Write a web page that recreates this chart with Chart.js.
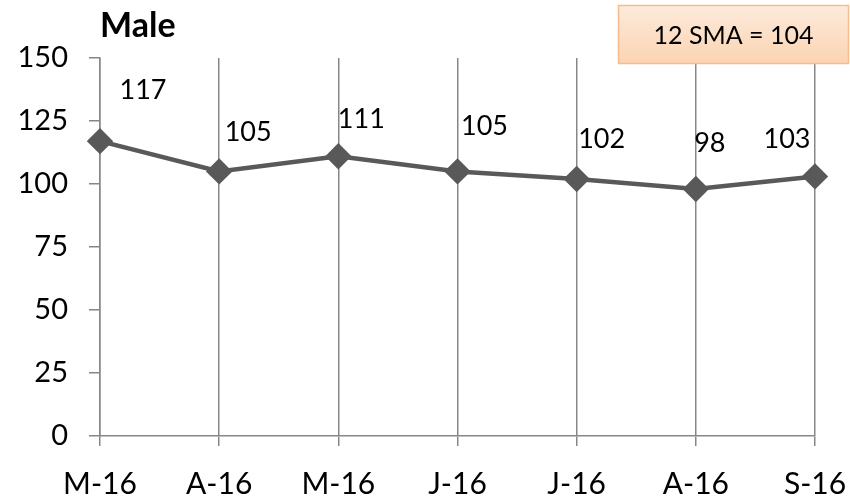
<!DOCTYPE html>
<html>
<head>
<meta charset="utf-8">
<script src="https://cdn.jsdelivr.net/npm/chart.js@4/dist/chart.umd.min.js"></script>
<style>
  html, body { margin: 0; padding: 0; background: #fff; }
  #wrap { width: 850px; height: 499px; }
</style>
</head>
<body>
<div id="wrap"><canvas id="c" width="850" height="499"></canvas></div>
<script>
const categories = ['M-16', 'A-16', 'M-16', 'J-16', 'J-16', 'A-16', 'S-16'];
const maleValues = [117, 105, 111, 105, 102, 98, 103];
const yTicks = [0, 25, 50, 75, 100, 125, 150];
const chartTitle = 'Male';
const smaText = '12 SMA = 104';

const FONT = 'Lato, "Open Sans", sans-serif';
const GRID = '#878787';
const LINE = '#595959';

// per-label offsets (dx, dy) from the point, in pixels
const labelOffsets = [[43, -51], [29, -39], [23, -37], [27, -45], [25, -40], [14, -46], [-28, -37]];

const overlay = {
  id: 'overlay',
  afterDatasetsDraw(chart) {
    const ctx = chart.ctx;
    const meta = chart.getDatasetMeta(0);
    const data = chart.data.datasets[0].data;
    ctx.save();
    ctx.fillStyle = '#000';
    ctx.font = '27px ' + FONT;
    ctx.textAlign = 'center';
    ctx.textBaseline = 'middle';
    meta.data.forEach((pt, i) => {
      const o = labelOffsets[i] || [20, -40];
      ctx.fillText(String(data[i]), pt.x + o[0], pt.y + o[1]);
    });
    // title
    ctx.font = 'bold 34px ' + FONT;
    ctx.textAlign = 'left';
    ctx.fillText(chartTitle, chart.chartArea.left, 26);
    // SMA box
    const bx = 618, by = 5, bw = 231, bh = 59;
    const g = ctx.createLinearGradient(0, by, 0, by + bh);
    g.addColorStop(0, '#fdebdc');
    g.addColorStop(1, '#fbd3b2');
    ctx.fillStyle = g;
    ctx.fillRect(bx, by, bw, bh);
    ctx.strokeStyle = '#f8bb8c';
    ctx.lineWidth = 1.5;
    ctx.strokeRect(bx + 0.5, by + 0.5, bw - 1, bh - 1);
    ctx.fillStyle = '#000';
    ctx.font = '25px ' + FONT;
    ctx.textAlign = 'center';
    ctx.fillText(smaText, bx + bw / 2, by + bh / 2 + 1);
    ctx.restore();
  }
};

new Chart(document.getElementById('c'), {
  type: 'line',
  data: {
    labels: categories,
    datasets: [{
      data: maleValues,
      borderColor: LINE,
      backgroundColor: LINE,
      borderWidth: 4.5,
      pointStyle: 'rectRot',
      pointRadius: 10,
      pointHoverRadius: 10,
      pointBackgroundColor: LINE,
      pointBorderColor: LINE,
      tension: 0,
      fill: false
    }]
  },
  options: {
    responsive: false,
    animation: false,
    devicePixelRatio: 1,
    layout: { padding: { top: 58, right: 35, left: 0, bottom: 0 } },
    plugins: { legend: { display: false }, tooltip: { enabled: false }, title: { display: false } },
    scales: {
      x: {
        type: 'category',
        offset: false,
        grid: { display: true, drawOnChartArea: true, drawTicks: true, tickLength: 10, color: GRID, lineWidth: 1.5 },
        border: { display: true, color: GRID, width: 1.5 },
        ticks: { color: '#000', font: { family: FONT, size: 30 }, padding: 20, maxRotation: 0, autoSkip: false },
        afterFit(s) { s.height = 63; s.paddingLeft = 0; s.paddingRight = 0; }
      },
      y: {
        min: 0, max: 150,
        afterBuildTicks(s) { s.ticks = yTicks.map(v => ({ value: v })); },
        grid: { display: true, drawOnChartArea: false, drawTicks: true, tickLength: 11, color: GRID, lineWidth: 1.5 },
        border: { display: true, color: GRID, width: 1.5 },
        ticks: { color: '#000', font: { family: FONT, size: 29 }, padding: 21 },
        afterFit(s) { s.width = 100; s.paddingTop = 0; s.paddingBottom = 0; }
      }
    }
  },
  plugins: [overlay]
});
</script>
</body>
</html>
